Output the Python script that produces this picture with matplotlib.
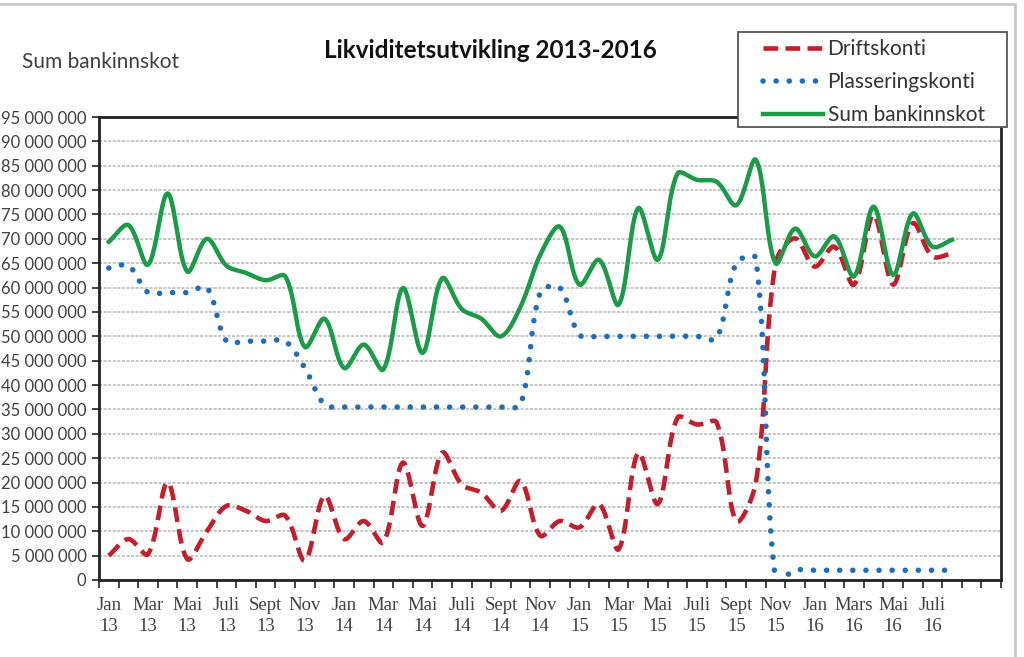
import matplotlib
matplotlib.use("Agg")
import matplotlib.pyplot as plt
import numpy as np
from matplotlib.ticker import FixedLocator, FuncFormatter, NullFormatter

# verdiar i millionar kroner, jan 2013 - aug 2016 (ein verdi per månad)
drift = [5, 8.4, 5.3, 20, 4.3, 10, 15.2, 14.2, 12.1, 13.2, 4, 17.3,
         8.4, 12.1, 7.7, 24.1, 11.1, 26.1, 19.6, 17.9, 14.2, 20.3, 9.1, 12.1,
         10.8, 15.6, 6.3, 26.1, 15.6, 33.3, 31.9, 32.3, 12.1, 20, 65, 70.1,
         64.3, 68.4, 60.6, 74.9, 60.6, 73.2, 66.4, 67]
plassering = [64, 64.5, 59, 59, 59, 60, 49, 49, 49, 49, 43.5, 36,
              35.5, 35.5, 35.5, 35.5, 35.5, 35.5, 35.5, 35.5, 35.5, 36, 59, 60,
              50.3, 50, 50, 50, 50, 50, 50, 49.6, 65, 66, 0, 2,
              2, 2, 2, 2, 2, 2, 2, 2]
sum_bank = [69.4, 72.8, 64.7, 79.3, 63.3, 70, 64.5, 63, 61.5, 62.3, 47.8, 53.6,
            43.5, 48.3, 43.2, 59.9, 46.6, 61.9, 55.6, 53.6, 50, 56.1, 66.7, 72.5,
            60.6, 65.7, 56.5, 76.3, 65.7, 83.4, 82.1, 81.7, 76.9, 86.2, 65, 72.1,
            66.4, 70.5, 62.3, 76.6, 62.6, 75.2, 68.4, 69.8]

# etikettar på annan kvar månad
etikettar = ["Jan\n13", "Mar\n13", "Mai\n13", "Juli\n13", "Sept\n13", "Nov\n13",
             "Jan\n14", "Mar\n14", "Mai\n14", "Juli\n14", "Sept\n14", "Nov\n14",
             "Jan\n15", "Mar\n15", "Mai\n15", "Juli\n15", "Sept\n15", "Nov\n15",
             "Jan\n16", "Mars\n16", "Mai\n16", "Juli\n16"]
ant_kategoriar = 46

# forholdet mellom y-eining og x-eining på skjermen (px per mill / px per månad)
KY = 4.874 / 19.6


def glatt(y, n=24):
    """jevn linje omtrent som Excel: Bezier med kontrollpunkt skalert etter lengda på segmenta"""
    y = np.asarray(y, dtype=float)
    x = np.arange(len(y), dtype=float)
    P = np.column_stack([x, y * KY])
    P = np.vstack([P[0], P, P[-1]])
    d = np.hypot(*np.diff(P, axis=0).T)
    t = np.linspace(0, 1, n, endpoint=False)[:, None]
    ut = []
    for i in range(1, len(P) - 2):
        p0, p1, p2, p3 = P[i - 1], P[i], P[i + 1], P[i + 2]
        d0, d1, d2 = d[i - 1], d[i], d[i + 1]
        c1 = p1 + (p2 - p0) * (d1 / (d0 + d1)) / 3 if d0 + d1 > 0 else p1
        c2 = p2 - (p3 - p1) * (d1 / (d1 + d2)) / 3 if d1 + d2 > 0 else p2
        b = ((1 - t) ** 3) * p1 + 3 * ((1 - t) ** 2) * t * c1 + 3 * (1 - t) * t ** 2 * c2 + t ** 3 * p2
        ut.append(b)
    ut.append(P[-2][None, :])
    ut = np.vstack(ut)
    return ut[:, 0], ut[:, 1] / KY


fig = plt.figure(figsize=(10.24, 6.57), dpi=100)
ax = fig.add_axes([99 / 1024, 1 - 580 / 657, (1001 - 99) / 1024, (580 - 117) / 657])

raud = '#c0202e'
blaa = '#1f6cb8'
groen = '#1d9a48'

x, y = glatt(drift)
ax.plot(x, y, color=raud, lw=3.3, linestyle=(0, (3.2, 1.6)), label='Driftskonti', zorder=3)
x, y = glatt(plassering)
ax.plot(x, y, color=blaa, lw=4.0, linestyle=(0, (0.01, 2.35)), dash_capstyle='round',
        label='Plasseringskonti', zorder=4)
x, y = glatt(sum_bank)
ax.plot(x, y, color=groen, lw=3.2, label='Sum bankinnskot', zorder=5)

ax.set_xlim(-0.5, ant_kategoriar - 0.5)
ax.set_ylim(0, 95)

ax.yaxis.set_major_locator(FixedLocator(np.arange(0, 96, 5)))
ax.yaxis.set_major_formatter(FuncFormatter(lambda v, p: f"{int(round(v * 1e6)):,}".replace(",", " ")))
ax.grid(axis='y', color='#b4b4b4', linestyle=(0, (2, 1)), lw=1.1)
ax.set_axisbelow(True)

ax.xaxis.set_major_locator(FixedLocator(np.arange(-0.5, ant_kategoriar, 1)))
ax.xaxis.set_major_formatter(NullFormatter())
ax.xaxis.set_minor_locator(FixedLocator(np.arange(0, 2 * len(etikettar), 2)))
ax.set_xticklabels(etikettar, minor=True, family='Liberation Serif', fontsize=13.5,
                   color='#404040', linespacing=1.35)
ax.tick_params(axis='x', which='major', length=6, width=1.3, direction='out', color='#333333')
ax.tick_params(axis='x', which='minor', length=0, pad=12)
ax.tick_params(axis='y', length=5, width=1.3, color='#333333', pad=4)
for lab in ax.get_yticklabels():
    lab.set_family('Lato')
    lab.set_fontsize(12)
    lab.set_color('#404040')

for s in ax.spines.values():
    s.set_linewidth(2)
    s.set_color('#222222')

fig.text(490 / 1024, 1 - 50 / 657, 'Likviditetsutvikling 2013-2016', ha='center', va='center',
         fontsize=17.5, fontweight='bold', family='Lato', color='#111111')
fig.text(22 / 1024, 1 - 62 / 657, 'Sum bankinnskot', ha='left', va='center',
         fontsize=15, family='Lato', color='#404040')

# legendeboks: eigen ramme, teksten utan ramme oppå
fig.add_artist(plt.Rectangle((738 / 1024, 1 - 127 / 657), 269 / 1024, 95 / 657,
                             transform=fig.transFigure, facecolor='white',
                             edgecolor='#555555', lw=1.3, zorder=4))
leg = fig.legend(loc='upper left', bbox_to_anchor=(763 / 1024, 1 - 39 / 657),
                 prop={'family': 'Lato', 'size': 15}, handlelength=2.9, handletextpad=0.2,
                 labelspacing=0.62, borderpad=0, borderaxespad=0, frameon=False)
leg.set_zorder(5)
for t in leg.get_texts():
    t.set_color('#333333')

# ramme rundt biletet
fig.add_artist(plt.Rectangle((-0.02, -0.02), 1.011, 1.014, transform=fig.transFigure,
                             fill=False, edgecolor='#c8c8c8', lw=2))

fig.savefig('out.png', dpi=100)
